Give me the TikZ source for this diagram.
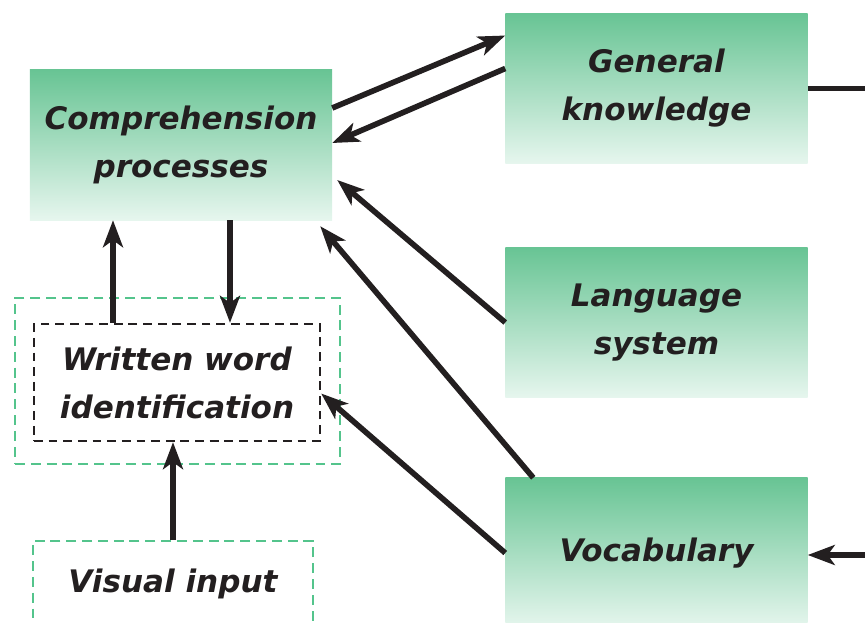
\documentclass[tikz,border=0pt]{standalone}
\usepackage{fontspec}
\newfontfamily\boxfont{DejaVu Sans}
\usetikzlibrary{arrows.meta, calc, positioning}
\definecolor{boxtop}{RGB}{104,196,148}
\definecolor{boxbottom}{RGB}{230,246,238}
\definecolor{ink}{RGB}{35,31,32}
\definecolor{dashgreen}{RGB}{84,196,140}

\begin{document}
\begin{tikzpicture}[
    x=0.03cm, y=-0.03cm,
    box/.style={rectangle, top color=boxtop, bottom color=boxbottom, minimum width=9.06cm, minimum height=4.5cm, align=center, text=ink, font=\boxfont\bfseries\itshape\fontsize{26.5}{41}\selectfont},
    dashbox/.style={rectangle, draw=dashgreen, line width=2pt, dash pattern=on 8.5pt off 5pt},
    wordbox/.style={rectangle, draw=ink, line width=2pt, dash pattern=on 7.5pt off 5pt, align=center, text=ink, font=\boxfont\bfseries\itshape\fontsize{26.5}{41}\selectfont},
    arrow/.style={draw=ink, line width=4.8pt, -{Stealth[length=23pt, width=17pt, inset=6pt]}},
    ]
    \useasboundingbox (0,0) rectangle (865,623);
    \clip (0,0) rectangle (865,623);

    % Nodes
    \node[box] (comp) at (181,145) {Comprehension\\processes};
    \node[box] (gk) at (656.5,88.5) {General\\knowledge};
    \node[box] (lang) at (656.5,322.5) {Language\\system};
    \node[box] (vocab) at (656.5,553) {Vocabulary};
    \node[dashbox, minimum width=9.75cm, minimum height=4.98cm] (wordgroup) at (177.5,381) {};
    \node[wordbox, minimum width=8.58cm, minimum height=3.51cm] (word) at (177,382.5) {Written word\\identification};
    \node[dashbox, minimum width=8.4cm, minimum height=3cm, text=ink, font=\boxfont\bfseries\itshape\fontsize{26.5}{41}\selectfont] (visual) at (173,591) {\raisebox{18pt}{Visual input}};
    \coordinate (gkout) at (880,88.5);
    \coordinate (vocabin) at (880,555);

    % Edges
    \draw[arrow] ($(comp.east)+(0,-37)$) -- ($(gk.west)+(0,-53)$);
    \draw[arrow] ($(gk.west)+(0,-20)$) -- ($(comp.east)+(0,-2)$);
    \draw[draw=ink, line width=4.8pt] (gk.east) -- (gkout);
    \draw[arrow] (vocabin) -- ($(vocab.east)+(0,2)$);
    \draw[arrow] (lang.west) -- ($(comp.east)+(5,35)$);
    \draw[arrow] ($(vocab.north west)+(28,0)$) -- ($(comp.south east)+(-12,6)$);
    \draw[arrow] (vocab.west) -- ($(word.east)+(0,11)$);
    \draw[arrow] ($(word.north)+(-64,0)$) -- ($(comp.south)+(-68,0)$);
    \draw[arrow] ($(comp.south)+(49,0)$) -- ($(word.north)+(53,0)$);
    \draw[arrow] (visual.north) -- (visual.north |- word.south);
\end{tikzpicture}
\end{document}
